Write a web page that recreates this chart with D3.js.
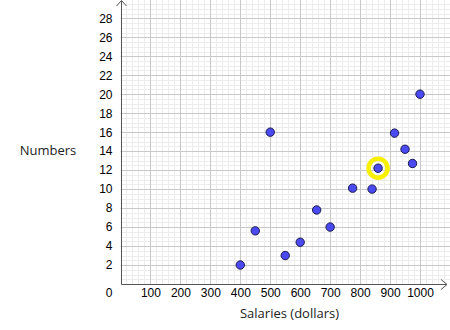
<!DOCTYPE html>
<html><head><meta charset="utf-8">
<script src="https://cdn.jsdelivr.net/npm/d3@7"></script>
<style>body{margin:0;background:#fff}svg{display:block}</style>
</head><body>
<script>
const salaries = [400, 450, 500, 550, 600, 655, 700, 775, 840, 860, 915, 950, 975, 1000];
const numbers  = [2, 5.6, 16, 3, 4.4, 7.8, 6, 10.1, 10, 12.2, 15.9, 14.2, 12.7, 20];
const highlighted = [860];
const xTicks = [100, 200, 300, 400, 500, 600, 700, 800, 900, 1000];
const yTicks = [2, 4, 6, 8, 10, 12, 14, 16, 18, 20, 22, 24, 26, 28];

const W = 450, H = 330;
const svg = d3.select("body").append("svg").attr("width", W).attr("height", H);
const x = d3.scaleLinear().domain([0, 1000]).range([120.5, 420]);
const y = d3.scaleLinear().domain([0, 28]).range([284, 18.3]);
const xMax = x.invert(450), yMax = y.invert(0);

const g = svg.append("g");
// minor grid
const xMinor = d3.range(20, xMax, 20).filter(v => v % 100 !== 0);
const yMinor = d3.range(0.5, yMax, 0.5).filter(v => v % 2 !== 0);
g.selectAll(".xm").data(xMinor).join("line")
  .attr("x1", d => Math.round(x(d)) + 0.5).attr("x2", d => Math.round(x(d)) + 0.5)
  .attr("y1", 0).attr("y2", y(0)).attr("stroke", "#ececec").attr("stroke-width", 1);
g.selectAll(".ym").data(yMinor).join("line")
  .attr("y1", d => Math.round(y(d)) + 0.5).attr("y2", d => Math.round(y(d)) + 0.5)
  .attr("x1", x(0)).attr("x2", W).attr("stroke", "#ececec").attr("stroke-width", 1);
// major grid
const xMajor = d3.range(100, xMax, 100);
g.selectAll(".xM").data(xMajor).join("line")
  .attr("x1", d => Math.round(x(d)) + 0.5).attr("x2", d => Math.round(x(d)) + 0.5)
  .attr("y1", 0).attr("y2", y(0)).attr("stroke", "#c8c8c8").attr("stroke-width", 1);
g.selectAll(".yM").data(d3.range(2, yMax, 2)).join("line")
  .attr("y1", d => Math.round(y(d)) + 0.5).attr("y2", d => Math.round(y(d)) + 0.5)
  .attr("x1", x(0)).attr("x2", W).attr("stroke", "#c8c8c8").attr("stroke-width", 1);

// axes
const ax = "#555";
const x0 = Math.round(x(0)) + 0.5, y0 = Math.round(y(0)) + 0.5;
svg.append("line").attr("x1", x0).attr("x2", 447).attr("y1", y0).attr("y2", y0).attr("stroke", ax);
svg.append("line").attr("x1", x0).attr("x2", x0).attr("y1", y0).attr("y2", 1).attr("stroke", ax);
svg.append("path").attr("d", `M${441},${y0-5}L${447},${y0}L${441},${y0+5}`).attr("fill", "none").attr("stroke", ax);
svg.append("path").attr("d", `M${x0-5},${6}L${x0},${0.5}L${x0+5},${6}`).attr("fill", "none").attr("stroke", ax);

// tick labels via axes
const font = "Liberation Sans, Arial, sans-serif";
const xAxis = d3.axisBottom(x).tickValues(xTicks).tickFormat(d3.format("d")).tickSize(0).tickPadding(0);
svg.append("g").attr("transform", `translate(0,${y(0)+4})`).call(xAxis)
  .call(s => s.select(".domain").remove())
  .selectAll("text").attr("font-family", font).attr("font-size", 12).attr("fill", "#000").attr("dy", "0.71em");
const yAxis = d3.axisLeft(y).tickValues(yTicks).tickFormat(d3.format("d")).tickSize(0).tickPadding(0);
svg.append("g").attr("transform", `translate(${x(0)-8},0)`).call(yAxis)
  .call(s => s.select(".domain").remove())
  .selectAll("text").attr("font-family", font).attr("font-size", 12).attr("fill", "#000");
svg.append("text").attr("x", 112.5).attr("y", y(0) + 4).attr("dy", "0.71em").attr("text-anchor", "end")
  .attr("font-family", font).attr("font-size", 12).text("0");

// axis titles
svg.append("text").attr("x", 48).attr("y", 150).attr("dy", "0.35em").attr("text-anchor", "middle")
  .attr("font-family", "Open Sans, sans-serif").attr("font-size", 13).attr("fill", "#222").text("Numbers");
svg.append("text").attr("x", 289.5).attr("y", 313).attr("dy", "0.35em").attr("text-anchor", "middle")
  .attr("font-family", "Open Sans, sans-serif").attr("font-size", 13).attr("fill", "#222").text("Salaries (dollars)");

// points
const pts = salaries.map((s, i) => ({s, n: numbers[i]}));
svg.selectAll(".hl").data(pts.filter(p => highlighted.includes(p.s))).join("circle")
  .attr("cx", d => x(d.s)).attr("cy", d => y(d.n)).attr("r", 9.5)
  .attr("fill", "none").attr("stroke", "#f8f000").attr("stroke-width", 4.5);
svg.selectAll(".pt").data(pts).join("circle")
  .attr("cx", d => x(d.s)).attr("cy", d => y(d.n)).attr("r", 4.2)
  .attr("fill", "#4a4af0").attr("stroke", "#1a1a50").attr("stroke-width", 1);
</script>
</body></html>
